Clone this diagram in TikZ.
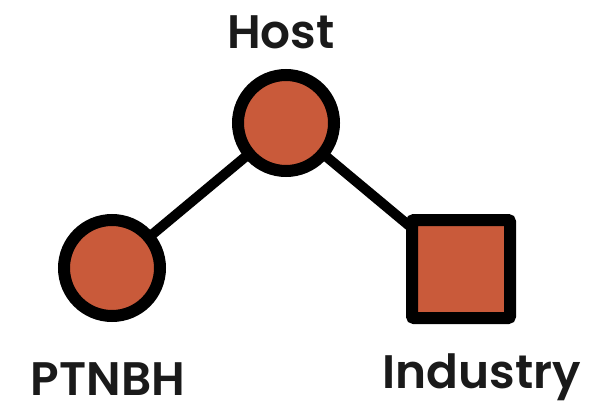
\documentclass[tikz,border=0pt]{standalone}
\usepackage{fontspec}
\setmainfont{Poppins}[UprightFont=* SemiBold, BoldFont=* Bold]
\definecolor{nodefill}{HTML}{C95A3A}
\definecolor{textcol}{HTML}{1A1A1A}
\begin{document}
\begin{tikzpicture}[x=1pt,y=-1pt,
  roundnode/.style={circle, draw=black, line width=12pt, fill=nodefill, minimum size=96pt, inner sep=0pt},
  squarenode/.style={rectangle, draw=black, line width=12pt, fill=nodefill, minimum size=98pt, inner sep=0pt, rounded corners=2pt},
  edge/.style={draw=black, line width=10pt},
  lbl/.style={font=\fontsize{47}{50}\selectfont, text=textcol, inner sep=0pt}]
\useasboundingbox (0,0) rectangle (591,404);
\coordinate (hc) at (286,123);
\coordinate (pc) at (112,268);
\coordinate (ic) at (461,269);
\draw[edge] (hc) -- (pc);
\draw[edge] (hc) -- (ic);
\node[roundnode] (host) at (hc) {};
\node[roundnode] (ptnbh) at (pc) {};
\node[squarenode] (ind) at (ic) {};
\node[lbl] (hostl) at (281,32) {Host};
\node[lbl] (ptl) at (108,379) {PTNBH};
\node[lbl] (indl) at (482,377) {Industry};
\end{tikzpicture}
\end{document}
